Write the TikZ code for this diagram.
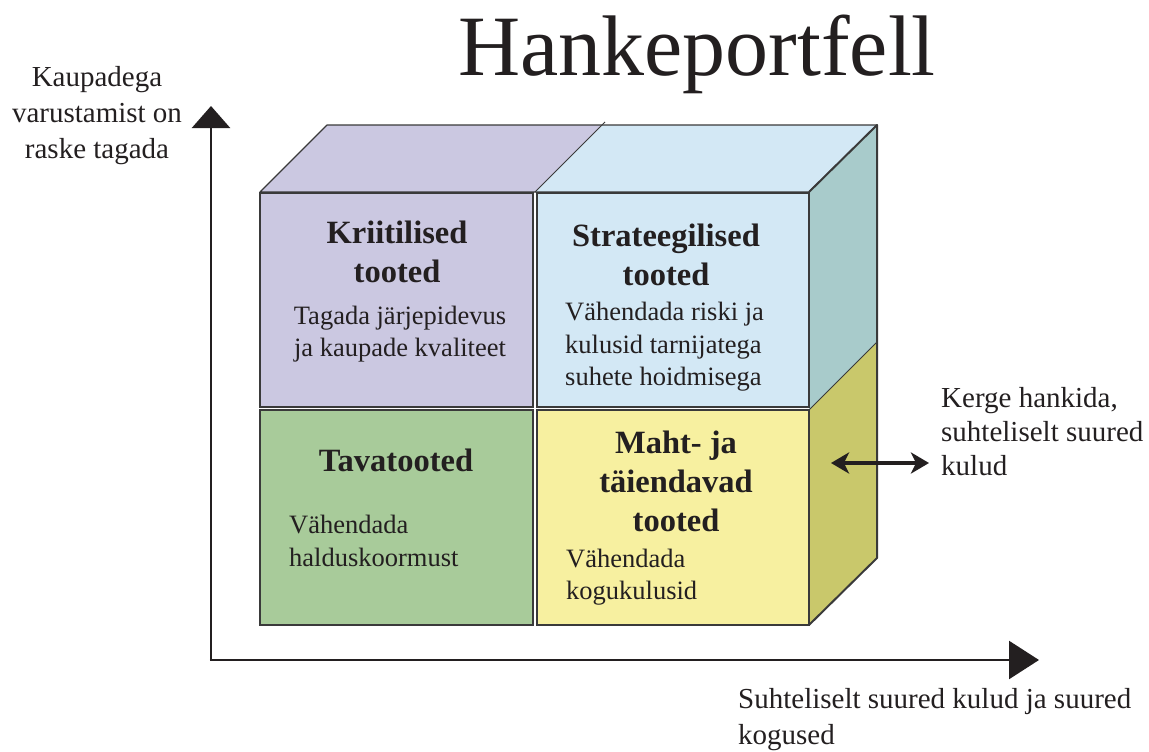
\documentclass[tikz,border=0pt]{standalone}
\usepackage{fontspec}
\setmainfont{Liberation Serif}
\usetikzlibrary{arrows.meta}
\definecolor{lav}{HTML}{CBC8E1}
\definecolor{sky}{HTML}{D3E8F5}
\definecolor{grn}{HTML}{A8CB9A}
\definecolor{yel}{HTML}{F7F0A0}
\definecolor{teal}{HTML}{A8CBCB}
\definecolor{olive}{HTML}{C9C86B}
\definecolor{ink}{HTML}{231F20}
\definecolor{edge}{HTML}{3A3A3A}
\tikzset{
  box/.style={draw=edge, line width=1.2pt, inner sep=0pt},
  face/.style={draw=edge, line width=1.2pt, line join=round},
  head/.style={font=\fontsize{32.5}{39}\selectfont\bfseries, text=ink, align=center, inner sep=0pt},
  body/.style={font=\fontsize{26.5}{32.5}\selectfont, text=ink, inner sep=0pt},
  lbl/.style={font=\fontsize{29}{35}\selectfont, text=ink, inner sep=0pt},
  axis/.style={line width=2.5pt, draw=ink},
}
\begin{document}
\begin{tikzpicture}[x=1pt,y=-1pt]
\useasboundingbox (0,0) rectangle (1149,752);
% top face
\fill[lav] (260,192) -- (327,125) -- (603,125) -- (535,192) -- cycle;
\fill[sky] (535,192) -- (603,125) -- (877,125) -- (809,192) -- cycle;
\draw[face] (260,192) -- (327,125) -- (877,125) -- (809,192) -- cycle;
\draw[edge, line width=1pt] (535,192) -- (605,122);
% side face
\fill[teal] (809,192) -- (877,125) -- (877,342) -- (809,410) -- cycle;
\fill[olive] (809,410) -- (877,342) -- (877,558) -- (809,625) -- cycle;
\draw[edge, line width=0.8pt] (809,410) -- (877,342);
\draw[face, line width=2pt] (809,192) -- (877,125) -- (877,558) -- (809,625);
% front boxes
\node[box, fill=lav, minimum width=273pt, minimum height=214pt] (kr) at (396.5,300) {};
\node[box, fill=sky, minimum width=272pt, minimum height=214pt] (st) at (673,300) {};
\node[box, fill=grn, minimum width=273pt, minimum height=215pt] (ta) at (396.5,517.5) {};
\node[box, fill=yel, minimum width=272pt, minimum height=215pt] (ma) at (673,517.5) {};
% axes
\coordinate (o) at (211,660);
\coordinate (ytip) at (211,106);
\coordinate (xtip) at (1039,660);
\draw[axis, -{Triangle[width=38pt,length=22pt]}] (o) -- (ytip);
\draw[axis, -{Triangle[width=38pt,length=30pt]}] ([xshift=-1.25pt]o) -- (xtip);
% double arrow
\coordinate (da) at (831,463);
\coordinate (db) at (929,463);
\draw[line width=3.5pt, draw=ink, {Stealth[width=21pt,length=18pt,inset=5pt]}-{Stealth[width=21pt,length=18pt,inset=5pt]}] (da) -- (db);
% texts
\node[font=\fontsize{86}{90}\selectfont, text=ink, inner sep=0pt, anchor=base] (title) at (697,75) {Hankeportfell};
\node[lbl, align=center, font=\fontsize{29}{36}\selectfont] (ylab) at (97,116) {Kaupadega\\varustamist on\\raske tagada};
\node[head] (krh) at (397,252) {Kriitilised\\tooted};
\node[body, align=center] (krb) at (400,334) {Tagada järjepidevus\\ja kaupade kvaliteet};
\node[head] (sth) at (666,255) {Strateegilised\\tooted};
\node[body, align=left, anchor=west] (stb) at (565,347) {Vähendada riski ja\\kulusid tarnijatega\\suhete hoidmisega};
\node[head] (tah) at (396,460) {Tavatooted};
\node[body, align=left, anchor=west] (tab) at (289,541) {Vähendada\\halduskoormust};
\node[head] (mah) at (676,481) {Maht- ja\\täiendavad\\tooted};
\node[body, align=left, anchor=west] (mab) at (566,577) {Vähendada\\kogukulusid};
\node[lbl, align=left, anchor=west, font=\fontsize{29}{34}\selectfont] (kerge) at (941,432) {Kerge hankida,\\suhteliselt suured\\kulud};
\node[lbl, align=left, anchor=west, font=\fontsize{29}{36}\selectfont] (xlab) at (738,720) {Suhteliselt suured kulud ja suured\\kogused};
\end{tikzpicture}
\end{document}
